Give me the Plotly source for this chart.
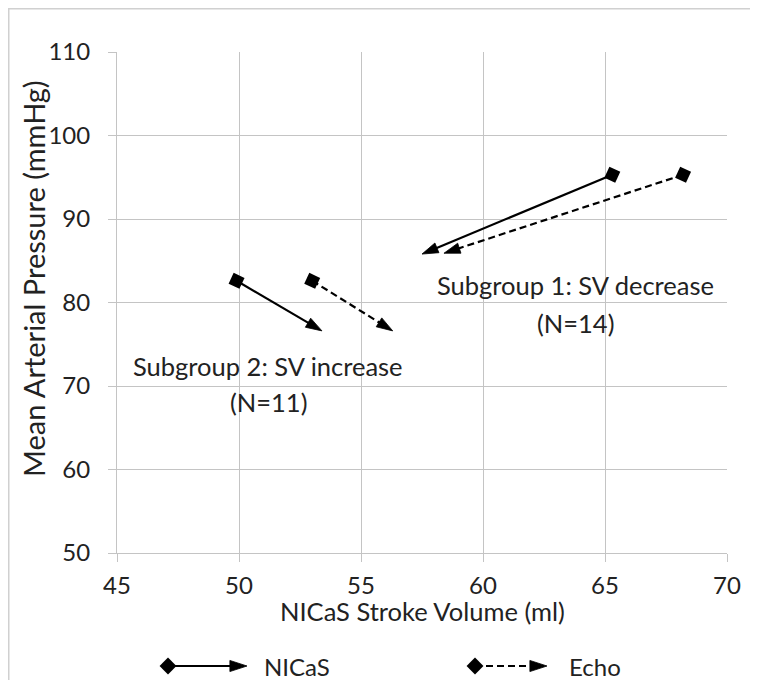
import plotly.graph_objects as go

# ---- data ----
subgroups = ["Subgroup 1: SV decrease", "Subgroup 2: SV increase"]
subgroup_n = [14, 11]

nicas_sv_start = [65.3, 49.9]
nicas_sv_end = [57.5, 53.4]
nicas_map_start = [95.3, 82.6]
nicas_map_end = [85.8, 76.6]

echo_sv_start = [68.2, 53.0]
echo_sv_end = [58.4, 56.3]
echo_map_start = [95.3, 82.6]
echo_map_end = [85.9, 76.6]

x_ticks = [45, 50, 55, 60, 65, 70]
y_ticks = [50, 60, 70, 80, 90, 100, 110]

series_names = ["NICaS", "Echo"]

FONT = "Lato"
TXT = "#222222"
GRID = "#c4c4c4"
SOLID = "solid"
DASHED = "7px,4px"

# page body adds an 8px offset; figure is laid out for that
W, H = 742, 672
L, R, T, B = 109, 23, 44, 2
PW, PH = W - L - R, H - T - B          # paper size in px
PLOT_BOTTOM = 545                       # px (figure coords) of y = 50

fig = go.Figure()


def add_arrow(xs, ys, dash, xaxis="x", yaxis="y", start_symbol="square",
              start_angle=25, start_size=12, head_size=17):
    # shaft + arrowhead (arrowhead orientation follows the segment)
    fig.add_trace(go.Scatter(
        x=xs, y=ys, mode="lines+markers", xaxis=xaxis, yaxis=yaxis,
        line=dict(color="black", width=2.2, dash=dash),
        marker=dict(symbol=["circle", "arrow"], size=[0, head_size], opacity=1,
                    angleref="previous", color="black",
                    line=dict(width=0.8, color="black")),
        showlegend=False, hoverinfo="skip", cliponaxis=False,
    ))
    # start marker
    fig.add_trace(go.Scatter(
        x=xs[:1], y=ys[:1], mode="markers", xaxis=xaxis, yaxis=yaxis,
        marker=dict(symbol=start_symbol, size=start_size, angle=start_angle,
                    color="black", opacity=1, line=dict(width=0)),
        showlegend=False, hoverinfo="skip", cliponaxis=False,
    ))


for i in range(len(subgroups)):
    add_arrow([nicas_sv_start[i], nicas_sv_end[i]],
              [nicas_map_start[i], nicas_map_end[i]], SOLID)
    add_arrow([echo_sv_start[i], echo_sv_end[i]],
              [echo_map_start[i], echo_map_end[i]], DASHED)

# ---- custom legend on a hidden axis pair (x in reference pixels) ----
legend_items = [
    (series_names[0], SOLID, 168, 247, 262),
    (series_names[1], DASHED, 475, 547, 567),
]
for name, dash, x0, x1, xt in legend_items:
    add_arrow([x0, x1], [0, 0], dash, xaxis="x2", yaxis="y2",
              start_symbol="diamond", start_angle=0, start_size=13, head_size=18)

annotations = []
for name, dash, x0, x1, xt in legend_items:
    annotations.append(dict(x=xt, y=0, xref="x2", yref="y2", text=name,
                            showarrow=False, xanchor="left", yanchor="middle",
                            font=dict(family=FONT, size=24, color=TXT)))

# subgroup labels (two lines each)
label_pos = [(63.8, 82.1, 77.6), (51.2, 72.4, 68.1)]
for i, (lx, ly1, ly2) in enumerate(label_pos):
    annotations.append(dict(x=lx, y=ly1, xref="x", yref="y", text=subgroups[i],
                            showarrow=False, yanchor="middle",
                            font=dict(family=FONT, size=25.5, color=TXT)))
    annotations.append(dict(x=lx, y=ly2, xref="x", yref="y",
                            text=f"(N={subgroup_n[i]})",
                            showarrow=False, yanchor="middle",
                            font=dict(family=FONT, size=25.5, color=TXT)))

# axis titles
annotations.append(dict(x=0.5, y=(H - B - 603) / PH, xref="paper", yref="paper",
                        text="NICaS Stroke Volume (ml)", showarrow=False,
                        xanchor="center", yanchor="middle",
                        font=dict(family=FONT, size=25.5, color=TXT)))
annotations.append(dict(x=(25 - L) / PW, y=(H - B - 271) / PH, xref="paper", yref="paper",
                        text="Mean Arterial Pressure (mmHg)", showarrow=False,
                        textangle=-90, xanchor="center", yanchor="middle",
                        font=dict(family=FONT, size=29, color=TXT)))

axis_common = dict(showgrid=True, gridcolor=GRID, gridwidth=1, showline=True,
                   linecolor=GRID, linewidth=1, ticks="outside", ticklen=8,
                   tickcolor=GRID, zeroline=False, automargin=False,
                   tickfont=dict(family=FONT, size=24, color=TXT))

fig.update_layout(
    width=W, height=H,
    margin=dict(l=L, r=R, t=T, b=B),
    paper_bgcolor="white", plot_bgcolor="white",
    xaxis=dict(range=[45, 70], tickvals=x_ticks, domain=[0, 1], anchor="y",
               ticklabelstandoff=3, **axis_common),
    yaxis=dict(range=[50, 110], tickvals=y_ticks,
               domain=[(H - B - PLOT_BOTTOM) / PH, 1], anchor="x",
               ticklabelstandoff=13, **axis_common),
    xaxis2=dict(range=[117, 727], domain=[0, 1], anchor="y2", visible=False),
    yaxis2=dict(range=[-12, 50.6], domain=[0, 0.1], anchor="x2", visible=False),
    annotations=annotations,
    shapes=[
        dict(type="line", xref="paper", yref="paper",
             x0=(0.75 - L) / PW, x1=(0.75 - L) / PW,
             y0=-B / PH, y1=(H - B - 0.75) / PH,
             line=dict(color="#d0d0d0", width=1.5)),
        dict(type="line", xref="paper", yref="paper",
             x0=(0 - L) / PW, x1=(W - L) / PW,
             y0=(H - B - 0.75) / PH, y1=(H - B - 0.75) / PH,
             line=dict(color="#d0d0d0", width=1.5)),
    ],
)

fig.write_html("out.html")
